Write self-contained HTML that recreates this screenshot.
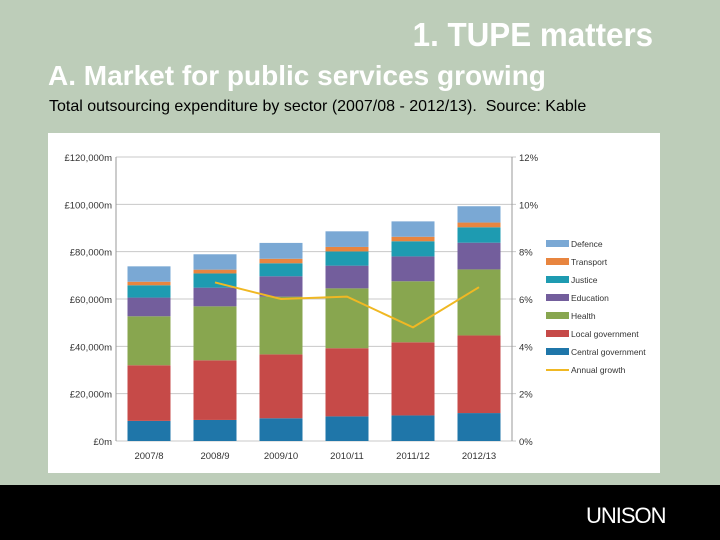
<!DOCTYPE html>
<html><head><meta charset="utf-8"><style>
body{margin:0;width:720px;height:540px;overflow:hidden;background:#bdcdb9;font-family:"Liberation Sans",sans-serif;position:relative}
.t{position:absolute;white-space:nowrap}
</style></head><body>
<div class="t" style="right:67px;top:16px;font-size:33px;color:#fff;font-weight:bold;transform:scaleX(0.95);transform-origin:right">1. TUPE matters</div>
<div class="t" style="left:48px;top:60px;font-size:28px;color:#fff;font-weight:bold;transform:scaleX(1.0);transform-origin:left">A. Market for public services growing</div>
<div class="t" style="left:49px;top:98px;font-size:16px;color:#000">Total outsourcing expenditure by sector (2007/08 - 2012/13).&nbsp; Source: Kable</div>
<svg id="chart" style="position:absolute;left:0;top:0" width="720" height="540"></svg>
<div style="position:absolute;left:0;top:485px;width:720px;height:55px;background:#000"></div>
<div class="t" style="left:586px;top:503px;font-size:22px;color:#fff;letter-spacing:-1px">UNISON</div>
<script>
const categories=["2007/8","2008/9","2009/10","2010/11","2011/12","2012/13"];
const seriesNames=["Central government","Local government","Health","Education","Justice","Transport","Defence"];
const colors=["#1f76a9","#c64a48","#88a64f","#735e9c","#1e9bb1","#e8853f","#7aa8d4"];
const central=[8.5,8.9,9.6,10.4,10.8,11.8];
const local=[23.5,25.2,27.0,28.8,30.9,32.8];
const health=[20.7,22.8,24.4,25.3,25.8,27.9];
const education=[7.9,7.9,8.6,9.6,10.5,11.3];
const justice=[5.2,6.0,5.5,6.0,6.4,6.5];
const transport=[1.5,1.6,1.9,1.9,1.9,2.0];
const defence=[6.5,6.5,6.7,6.6,6.5,6.9];
const growth=[null,6.7,6.0,6.1,4.8,6.5];
const leftTicks=["£0m","£20,000m","£40,000m","£60,000m","£80,000m","£100,000m","£120,000m"];
const rightTicks=["0%","2%","4%","6%","8%","10%","12%"];
const series=[central,local,health,education,justice,transport,defence];
const svg=document.getElementById('chart');const NS="http://www.w3.org/2000/svg";
function mk(tag,a,txt){const e=document.createElementNS(NS,tag);for(const k in a)e.setAttribute(k,a[k]);if(txt!=null)e.textContent=txt;svg.appendChild(e);return e;}
const X0=116,X1=512,Y0=441,Y1=157;
const y=v=>Y0-(v/120)*(Y0-Y1);
const yr=p=>Y0-(p/12)*(Y0-Y1);
const step=(X1-X0)/categories.length;
const xc=i=>X0+step*(i+0.5);
let bg=mk('rect',{x:48,y:133,width:612,height:340,fill:"#fff"});


for(let i=0;i<7;i++){const v=i*20;
 let g=mk('line',{x1:X0,x2:X1+4,y1:y(v),y2:y(v),stroke:"#c8c8c8","stroke-width":1});
 
 
 let l=mk('text',{x:X0-4,y:y(v)+4,"text-anchor":"end","font-size":"9.5",fill:"#333"},leftTicks[i]);
 
 
 let r=mk('text',{x:X1+7,y:yr(i*2)+4,"font-size":"9.5",fill:"#333"},rightTicks[i]);
 
 }
mk('line',{x1:X0,x2:X0,y1:Y1,y2:Y0,stroke:"#999"});
mk('line',{x1:X1,x2:X1,y1:Y1,y2:Y0,stroke:"#999"});
const bw=43;
categories.forEach((c,i)=>{let cum=0;
 series.forEach((s,k)=>{const b=mk('rect',{x:xc(i)-bw/2,y:y(cum+s[i]),width:bw,height:y(cum)-y(cum+s[i]),fill:colors[k]});
  
  
  cum+=s[i];});
 const t=mk('text',{x:xc(i),y:Y0+18,"text-anchor":"middle","font-size":"9.5",fill:"#333"},c);
 
 });
let pts=[];growth.forEach((g,i)=>{if(g!=null)pts.push(xc(i)+","+yr(g));});
const ln=mk('polyline',{points:pts.join(" "),fill:"none",stroke:"#f0b823","stroke-width":2});


const legNames=["Defence","Transport","Justice","Education","Health","Local government","Central government"];
const legCols=["#7aa8d4","#e8853f","#1e9bb1","#735e9c","#88a64f","#c64a48","#1f76a9"];
legNames.forEach((n,i)=>{const yy=244+i*18;
 const sw=mk('rect',{x:546,y:yy-4,width:23,height:7,fill:legCols[i]});
 
 
 const t=mk('text',{x:571,y:yy+3,"font-size":"8.5",fill:"#333"},n);
 
 });
const gl=mk('line',{x1:546,x2:569,y1:370,y2:370,stroke:"#f0b823","stroke-width":2});


const gt=mk('text',{x:571,y:373,"font-size":"8.5",fill:"#333"},"Annual growth");


</script>
</body></html>
